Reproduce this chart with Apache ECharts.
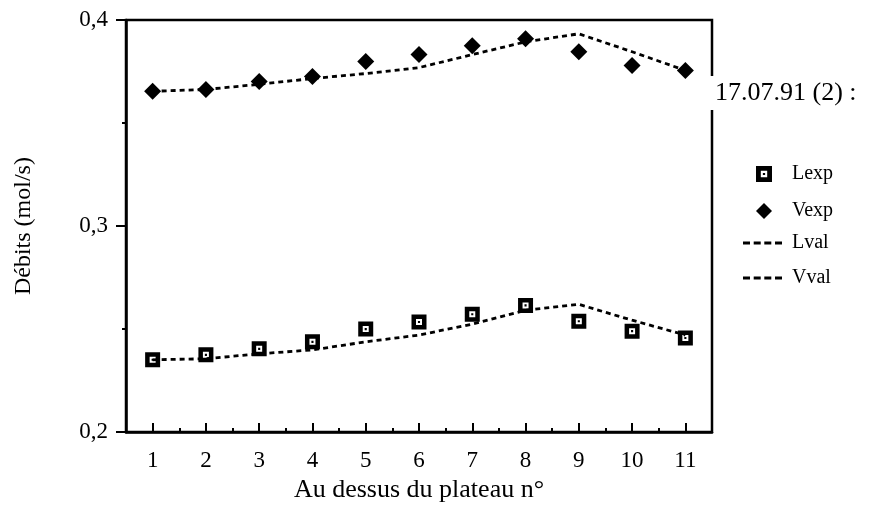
<!DOCTYPE html>
<html><head><meta charset="utf-8">
<script src="https://cdn.jsdelivr.net/npm/echarts@6/dist/echarts.min.js"></script>
<style>html,body{margin:0;padding:0;background:#fff}#c{width:870px;height:508px}</style>
</head><body><div id="c"></div>
<script>
const categories = ['1','2','3','4','5','6','7','8','9','10','11'];
const Lexp = [0.2351,0.2375,0.2404,0.2438,0.2500,0.2534,0.2572,0.2615,0.2538,0.2490,0.2457];
const Vexp = [0.3654,0.3663,0.3702,0.3726,0.3798,0.3832,0.3875,0.3909,0.3846,0.3779,0.3755];
const Lval = [0.2351,0.2356,0.2380,0.2399,0.2438,0.2471,0.2524,0.2591,0.2620,0.2543,0.2471];
const Vval = [0.3654,0.3663,0.3688,0.3716,0.3740,0.3769,0.3832,0.3894,0.3933,0.3846,0.3755];
const yTicks = [0.2, 0.3, 0.4];
const title = '17.07.91 (2) :';

const FONT = 'Liberation Serif';
const sq = 'path://M0,0H10V10H0Z M3,3V7H7V3Z M4.3,4.3H5.7V5.7H4.3Z';
const dashIcon = 'path://M0,0H7V3H0Z M10.7,0H17.7V3H10.7Z M21.3,0H28.3V3H21.3Z M32,0H39V3H32Z';
const chart = echarts.init(document.getElementById('c'));
const dash = {color:'#000', width:2.8, type:[5,4]};
const legText = {fontFamily:FONT,fontSize:20,color:'#000'};
chart.setOption({
  animation:false,
  backgroundColor:'#fff',
  textStyle:{fontFamily:FONT,color:'#000'},
  title:{text:title,left:708,top:76,padding:[4,2,4,7],backgroundColor:'#fff',
    textStyle:{fontFamily:FONT,fontSize:26,fontWeight:'normal',color:'#000'}},
  grid:{left:126,top:20,right:158,bottom:72,show:true,borderColor:'#000',borderWidth:2.5,backgroundColor:'transparent'},
  legend:[
    {orient:'vertical',left:751,top:159,itemGap:17,itemWidth:16,itemHeight:16,
     itemStyle:{borderWidth:0},
     textStyle:Object.assign({padding:[0,0,0,15]},legText),
     data:[{name:'Lexp',icon:sq},{name:'Vexp',icon:'diamond'}]},
    {orient:'vertical',left:738,top:228,itemGap:15,itemWidth:39,itemHeight:3,
     itemStyle:{borderWidth:0,color:'#000'},
     textStyle:Object.assign({padding:[0,0,0,5]},legText),
     data:[{name:'Lval',icon:dashIcon},{name:'Vval',icon:dashIcon}]}
  ],
  xAxis:[{type:'category',data:categories,boundaryGap:true,
    name:'Au dessus du plateau n°',nameLocation:'middle',nameGap:41,
    nameTextStyle:{fontFamily:FONT,fontSize:26,color:'#000'},
    axisLine:{show:true,lineStyle:{color:'#000',width:2.5}},
    axisTick:{show:true,alignWithLabel:true,inside:true,length:9,lineStyle:{color:'#000',width:2}},
    axisLabel:{show:true,margin:17,fontFamily:FONT,fontSize:23,color:'#000'},
    splitLine:{show:false}},
   {type:'category',data:categories,boundaryGap:true,position:'bottom',
    axisLine:{show:false},axisLabel:{show:false},
    axisTick:{show:true,inside:true,length:4,lineStyle:{color:'#000',width:2}},splitLine:{show:false}}],
  yAxis:{type:'value',min:0.2,max:0.4,interval:0.1,
    name:'Débits (mol/s)',nameLocation:'middle',nameGap:90,nameRotate:90,
    nameTextStyle:{fontFamily:FONT,fontSize:24,color:'#000'},
    axisLine:{show:true,lineStyle:{color:'#000',width:2.5}},
    axisTick:{show:true,length:10,lineStyle:{color:'#000',width:2}},
    minorTick:{show:true,splitNumber:2,length:4,lineStyle:{color:'#000',width:2}},
    axisLabel:{margin:18,fontFamily:FONT,fontSize:23,color:'#000',
      formatter:v=>yTicks.some(t=>Math.abs(t-v)<1e-9)?v.toFixed(1).replace('.',','):''},
    splitLine:{show:false}},
  series:[
    {name:'Lval',type:'line',data:Lval,symbol:'none',lineStyle:dash,itemStyle:{color:'#000'},z:2},
    {name:'Vval',type:'line',data:Vval,symbol:'none',lineStyle:dash,itemStyle:{color:'#000'},z:2},
    {name:'Lexp',type:'scatter',data:Lexp,symbol:sq,symbolSize:15,itemStyle:{color:'#000',opacity:1},z:3},
    {name:'Vexp',type:'scatter',data:Vexp,symbol:'diamond',symbolSize:[17,17],itemStyle:{color:'#000',opacity:1},z:3}
  ]
});
</script></body></html>
